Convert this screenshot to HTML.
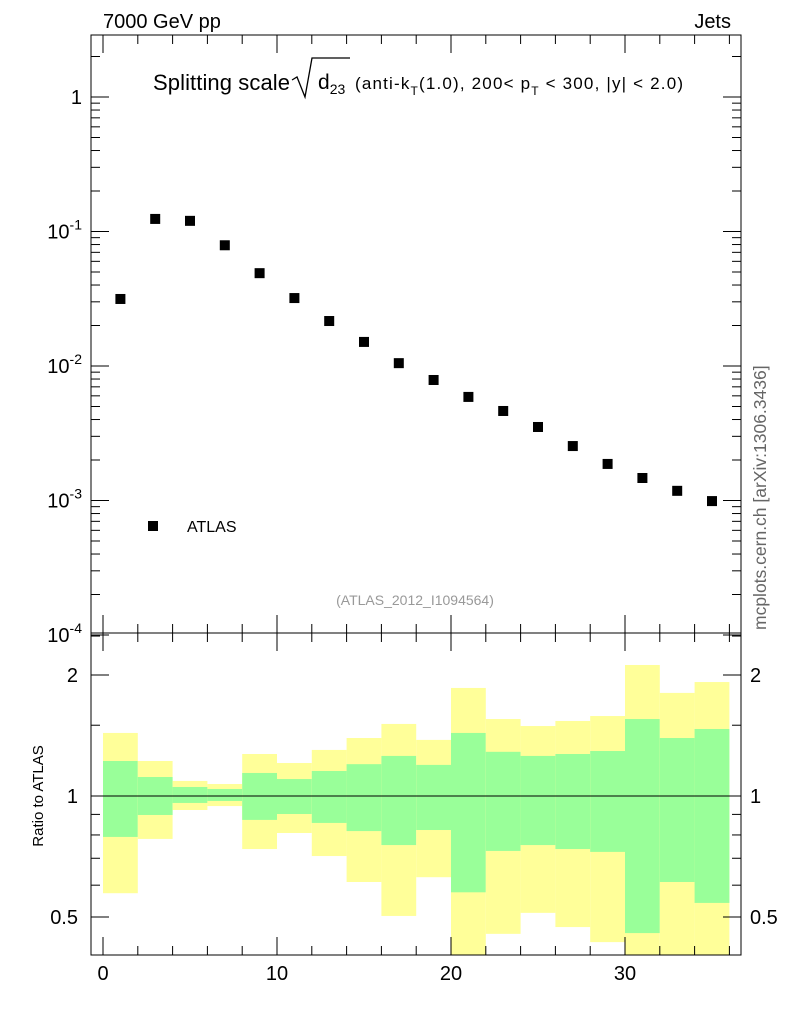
<!DOCTYPE html>
<html><head><meta charset="utf-8"><style>
body{margin:0;background:#fff;}
svg text{font-family:"Liberation Sans",sans-serif;}
</style></head><body>
<svg id="c" width="786" height="1024" xmlns="http://www.w3.org/2000/svg">
<text x="103" y="28" font-size="20">7000 GeV pp</text>
<text x="731" y="28" font-size="20" text-anchor="end">Jets</text>
<g>
<text x="153" y="90" font-size="22" textLength="137">Splitting scale</text>
<path d="M292,80 L297,77 L305,97 L312,58 L350,58" fill="none" stroke="#000" stroke-width="1.3"/>
<text x="318" y="89" font-size="21">d<tspan font-size="14" dy="5">23</tspan></text>
<text x="355" y="89" font-size="17" textLength="328">(anti-k<tspan font-size="12" dy="6">T</tspan><tspan dy="-6">(1.0), 200&lt; p</tspan><tspan font-size="12" dy="6">T</tspan><tspan dy="-6"> &lt; 300, |y| &lt; 2.0)</tspan></text>
</g>
<text x="415" y="605" font-size="14" fill="#999" text-anchor="middle">(ATLAS_2012_I1094564)</text>
<text x="766" y="630" font-size="17.5" fill="#666" transform="rotate(-90 766 630)">mcplots.cern.ch [arXiv:1306.3436]</text>
<text x="43" y="796" font-size="15" text-anchor="middle" transform="rotate(-90 43 796)">Ratio to ATLAS</text>
<rect x="148" y="521" width="10" height="10" fill="#000"/>
<text x="187" y="532" font-size="16">ATLAS</text>
<g id="g"></g>
</svg>
<script>
const xCenters=[1,3,5,7,9,11,13,15,17,19,21,23,25,27,29,31,33,35];
const values=[0.0315,0.124,0.12,0.079,0.049,0.032,0.0216,0.0151,0.0105,0.00787,0.00589,0.00463,0.00352,0.00254,0.00187,0.00147,0.00118,0.00099];
const yellowHi=[1.435,1.222,1.090,1.071,1.272,1.208,1.302,1.394,1.511,1.379,1.857,1.554,1.493,1.537,1.581,2.118,1.805,1.921];
const yellowLo=[0.573,0.782,0.923,0.944,0.738,0.809,0.709,0.611,0.503,0.628,0.3,0.454,0.512,0.472,0.433,0.3,0.3,0.3];
const greenHi=[1.222,1.115,1.053,1.041,1.141,1.102,1.154,1.200,1.258,1.195,1.435,1.288,1.258,1.272,1.294,1.554,1.394,1.468];
const greenLo=[0.791,0.897,0.961,0.972,0.872,0.902,0.857,0.818,0.755,0.823,0.576,0.730,0.755,0.738,0.726,0.456,0.611,0.542];
const xTicks=[0,10,20,30];
const mainTicks=[-4,-3,-2,-1,0];
const ratioTicks=[0.5,1,2];
const NS="http://www.w3.org/2000/svg",g=document.getElementById('g');
const L=91,R=741,T=35,M=633,B=955;
const X=v=>103+v*17.4;
const Y=v=>97-Math.log10(v)*134.5;
const YR=v=>796-Math.log2(v)*121;
function el(t,a,p){const e=document.createElementNS(NS,t);for(const k in a)e.setAttribute(k,a[k]);(p||g).appendChild(e);return e;}
const clip=el('clipPath',{id:'rc'});el('rect',{x:L,y:M,width:R-L,height:B-M},clip);
const bands=el('g',{'clip-path':'url(#rc)'});


xCenters.forEach((c,i)=>{
 const r1=el('rect',{x:X(c-1),y:YR(yellowHi[i]),width:X(c+1)-X(c-1),height:YR(yellowLo[i])-YR(yellowHi[i]),fill:'#ffff99'},bands);
 
 
 const r2=el('rect',{x:X(c-1),y:YR(greenHi[i]),width:X(c+1)-X(c-1),height:YR(greenLo[i])-YR(greenHi[i]),fill:'#99ff99'},bands);
 
 
});
const ref=el('line',{x1:L,x2:R,y1:YR(1),y2:YR(1),stroke:'#000','stroke-width':1});


xCenters.forEach((c,i)=>{
 const m=el('rect',{x:X(c)-5,y:Y(values[i])-5,width:10,height:10,fill:'#000'});
 
 
});
const f1=el('rect',{x:L,y:T,width:R-L,height:M-T,fill:'none',stroke:'#000','stroke-width':1});


const f2=el('rect',{x:L,y:M,width:R-L,height:B-M,fill:'none',stroke:'#000','stroke-width':1});


mainTicks.forEach(p=>{
 const y=Y(Math.pow(10,p));
 el('line',{x1:L,x2:L+18,y1:y,y2:y,stroke:'#000'});el('line',{x1:R,x2:R-18,y1:y,y2:y,stroke:'#000'});
 for(let k=2;k<10;k++){const yy=Y(k*Math.pow(10,p));if(yy>T){el('line',{x1:L,x2:L+9,y1:yy,y2:yy,stroke:'#000'});el('line',{x1:R,x2:R-9,y1:yy,y2:yy,stroke:'#000'});}}
 const t=el('text',{x:82,y:y+7,'font-size':20,'text-anchor':'end'});
 
 
 if(p===0)t.textContent='1';else{t.textContent='10';const s=el('tspan',{dy:-9,'font-size':14},t);s.textContent=String(p);}
});
ratioTicks.forEach(v=>{
 const y=YR(v);
 el('line',{x1:L,x2:L+18,y1:y,y2:y,stroke:'#000'});el('line',{x1:R,x2:R-18,y1:y,y2:y,stroke:'#000'});
 const t=el('text',{x:78,y:y+7,'font-size':20,'text-anchor':'end'});t.textContent=String(v);
 
 
 const t2=el('text',{x:750,y:y+7,'font-size':20});t2.textContent=String(v);
 
 
});
[0.4,0.6,0.7,0.8,0.9,1.5,2.5].forEach(v=>{const y=YR(v);if(y>M&&y<B){el('line',{x1:L,x2:L+9,y1:y,y2:y,stroke:'#000'});el('line',{x1:R,x2:R-9,y1:y,y2:y,stroke:'#000'});}});
for(let v=0;v<=36;v++){const x=X(v);const len=v%10===0?18:(v%2===0?9:0);if(!len)continue;
 [[B,-1],[M,1],[M,-1],[T,1]].forEach(([y,d])=>el('line',{x1:x,x2:x,y1:y,y2:y+d*len,stroke:'#000'}));}
xTicks.forEach(v=>{const t=el('text',{x:X(v),y:980,'font-size':20,'text-anchor':'middle'});t.textContent=String(v);
 
 });
</script>
</body></html>
